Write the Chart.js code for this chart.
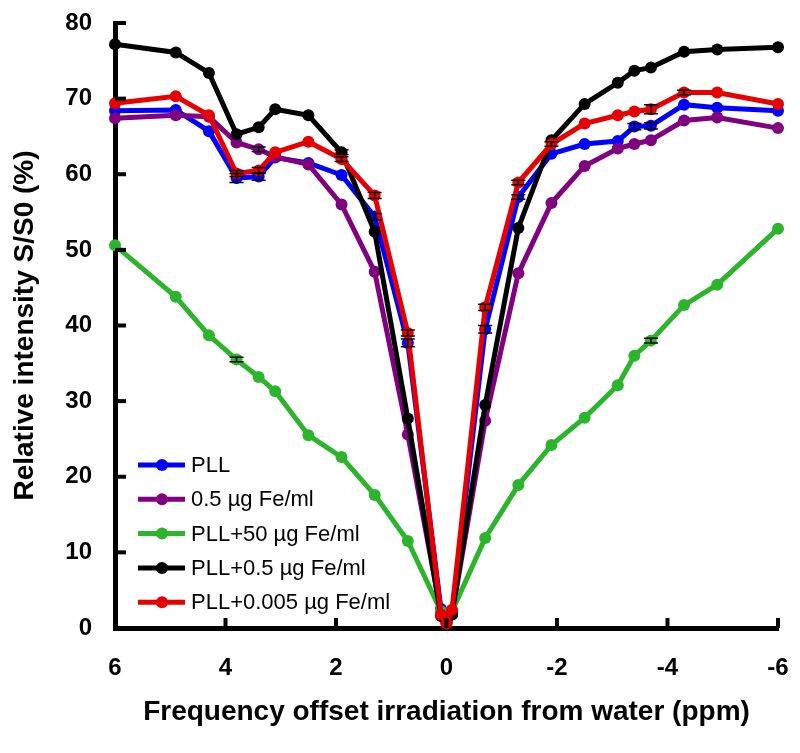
<!DOCTYPE html>
<html>
<head>
<meta charset="utf-8">
<script src="https://cdn.jsdelivr.net/npm/chart.js@4.4.1/dist/chart.umd.min.js"></script>
<style>
  html, body { margin: 0; padding: 0; background: #fff; }
  canvas { display: block; }
</style>
</head>
<body>
<canvas id="cest" width="800" height="753"></canvas>
<script>
// Frequency offsets (ppm), shared by every series
const offsets = [6, 4.9, 4.3, 3.8, 3.4, 3.1, 2.5, 1.9, 1.3, 0.7, 0.1, 0, -0.1,
    -0.7, -1.3, -1.9, -2.5, -3.1, -3.4, -3.7, -4.3, -4.9, -6];

const seriesNames = ['PLL', '0.5 µg Fe/ml', 'PLL+50 µg Fe/ml', 'PLL+0.5 µg Fe/ml', 'PLL+0.005 µg Fe/ml'];
const seriesColors = ['#0000ff', '#800080', '#2db42d', '#000000', '#e60000'];

const pll = [68.4, 68.5, 65.7, 59.5, 59.7, 62.2, 61.5, 59.9, 54.4, 37.7, 2.5, 0.6, 2.0,
    39.5, 57.0, 62.7, 64.0, 64.4, 66.3, 66.4, 69.2, 68.8, 68.4];
const fe05 = [67.4, 67.8, 67.6, 64.2, 63.3, 62.3, 61.3, 56.0, 47.1, 25.6, 2.0, 0.8, 1.8,
    27.4, 46.9, 56.2, 61.1, 63.4, 64.0, 64.5, 67.1, 67.5, 66.1];
const pllFe50 = [50.6, 43.8, 38.7, 35.5, 33.2, 31.3, 25.5, 22.6, 17.6, 11.5, 2.2, 1.0, 2.2,
    11.9, 18.9, 24.2, 27.8, 32.1, 36.0, 38.0, 42.7, 45.4, 52.8];
const pllFe05 = [77.2, 76.1, 73.4, 65.3, 66.2, 68.6, 67.8, 62.9, 52.4, 27.7, 1.6, 0.9, 1.8,
    29.5, 52.9, 64.5, 69.3, 72.1, 73.7, 74.1, 76.2, 76.5, 76.8];
const pllFe0005 = [69.4, 70.3, 67.8, 60.1, 60.5, 62.9, 64.3, 62.0, 57.2, 39.0, 1.8, 0.6, 2.4,
    42.4, 58.9, 64.0, 66.7, 67.8, 68.3, 68.6, 70.8, 70.8, 69.3];

// Standard errors (small, mostly hidden by the markers)
const pllErr = [0, 0, 0, 0.6, 0.5, 0, 0, 0, 0.4, 0.5, 0, 0, 0,
    0.5, 0.3, 0, 0, 0, 0.4, 0.4, 0, 0, 0];
const fe05Err = [0, 0, 0, 0, 0.3, 0, 0, 0, 0, 0, 0, 0, 0,
    0, 0, 0, 0, 0, 0, 0, 0, 0, 0];
const pllFe50Err = [0, 0, 0, 0.3, 0, 0, 0, 0, 0, 0, 0, 0, 0,
    0, 0, 0, 0, 0, 0, 0.3, 0, 0, 0];
const pllFe05Err = [0, 0, 0, 0, 0, 0, 0, 0.3, 0, 0, 0, 0, 0,
    0, 0, 0, 0, 0, 0, 0, 0, 0, 0];
const pllFe0005Err = [0, 0, 0, 0.4, 0.4, 0, 0, 0.3, 0.4, 0.4, 0, 0, 0,
    0.4, 0.3, 0.3, 0, 0, 0, 0.6, 0.3, 0, 0];

const seriesValues = [pll, fe05, pllFe50, pllFe05, pllFe0005];
const seriesErrors = [pllErr, fe05Err, pllFe50Err, pllFe05Err, pllFe0005Err];

const xTicks = [6, 4, 2, 0, -2, -4, -6];
const yTicks = [0, 10, 20, 30, 40, 50, 60, 70, 80];

const FONT = '"Liberation Sans", Arial, sans-serif';

const datasets = seriesNames.map((name, i) => ({
    label: name,
    data: offsets.map((x, j) => ({ x: x, y: seriesValues[i][j] })),
    borderColor: seriesColors[i],
    backgroundColor: seriesColors[i],
    pointBackgroundColor: seriesColors[i],
    pointBorderColor: seriesColors[i],
    borderWidth: 5,
    pointRadius: 6,
    pointBorderWidth: 0,
    tension: 0,
    clip: false,
    order: seriesNames.length - 1 - i   // later series drawn on top
}));

// Error bars with caps, from the error arrays
const errorBars = {
    id: 'errorBars',
    afterDatasetsDraw(chart) {
        const { ctx, scales } = chart;
        ctx.save();
        ctx.strokeStyle = '#000';
        ctx.lineWidth = 1.5;
        seriesErrors.forEach((errs, i) => {
            errs.forEach((e, j) => {
                if (!e) return;
                const px = scales.x.getPixelForValue(offsets[j]);
                const hi = scales.y.getPixelForValue(seriesValues[i][j] + e);
                const lo = scales.y.getPixelForValue(seriesValues[i][j] - e);
                ctx.beginPath();
                ctx.moveTo(px, hi); ctx.lineTo(px, lo);
                ctx.moveTo(px - 7, hi); ctx.lineTo(px + 7, hi);
                ctx.moveTo(px - 7, lo); ctx.lineTo(px + 7, lo);
                ctx.stroke();
            });
        });
        ctx.restore();
    }
};

// Inward tick marks on both axes
const inwardTicks = {
    id: 'inwardTicks',
    afterDatasetsDraw(chart) {
        const { ctx, chartArea, scales } = chart;
        ctx.save();
        ctx.strokeStyle = '#000';
        ctx.lineWidth = 4;
        scales.x.ticks.forEach(t => {
            const px = scales.x.getPixelForValue(t.value);
            ctx.beginPath();
            ctx.moveTo(px, chartArea.bottom);
            ctx.lineTo(px, chartArea.bottom - 10);
            ctx.stroke();
        });
        scales.y.ticks.forEach(t => {
            const py = scales.y.getPixelForValue(t.value);
            ctx.beginPath();
            ctx.moveTo(chartArea.left, py);
            ctx.lineTo(chartArea.left + 11, py);
            ctx.stroke();
        });
        ctx.restore();
    }
};

// Legend drawn inside the plot, lower left
const insideLegend = {
    id: 'insideLegend',
    afterDraw(chart) {
        const { ctx, chartArea } = chart;
        const x0 = chartArea.left + 23;
        const y0 = 465;
        const step = 34.3;
        ctx.save();
        ctx.font = '22px ' + FONT;
        ctx.textBaseline = 'middle';
        ctx.textAlign = 'left';
        seriesNames.forEach((name, i) => {
            const y = y0 + i * step;
            ctx.strokeStyle = seriesColors[i];
            ctx.fillStyle = seriesColors[i];
            ctx.lineWidth = 5;
            ctx.beginPath();
            ctx.moveTo(x0, y);
            ctx.lineTo(x0 + 47, y);
            ctx.stroke();
            ctx.beginPath();
            ctx.arc(x0 + 24, y, 6, 0, Math.PI * 2);
            ctx.fill();
            ctx.fillStyle = '#000';
            ctx.fillText(name, x0 + 53, y + 1);
        });
        ctx.restore();
    }
};

new Chart(document.getElementById('cest'), {
    type: 'line',
    data: { datasets },
    plugins: [errorBars, inwardTicks, insideLegend],
    options: {
        responsive: false,
        devicePixelRatio: 1,
        animation: false,
        layout: { padding: { top: 23, right: 22, left: 0, bottom: 0 } },
        plugins: {
            legend: { display: false },
            tooltip: { enabled: false }
        },
        scales: {
            x: {
                type: 'linear',
                reverse: true,
                min: -6,
                max: 6,
                afterFit: s => { s.height = 125; s.paddingLeft = 0; s.paddingRight = 0; },
                afterBuildTicks: s => { s.ticks = xTicks.map(v => ({ value: v })); },
                grid: { display: false, drawTicks: false },
                border: { display: true, color: '#000', width: 5 },
                ticks: {
                    color: '#000',
                    padding: 26,
                    font: { family: FONT, size: 24, weight: 'bold' }
                },
                title: {
                    display: true,
                    text: 'Frequency offset irradiation from water (ppm)',
                    color: '#000',
                    padding: { top: 0, bottom: 24 },
                    font: { family: FONT, size: 28, weight: 'bold' }
                }
            },
            y: {
                min: 0,
                max: 80,
                afterFit: s => { s.width = 115; s.paddingTop = 0; s.paddingBottom = 0; },
                afterBuildTicks: s => { s.ticks = yTicks.map(v => ({ value: v })); },
                grid: { display: false, drawTicks: false },
                border: { display: true, color: '#000', width: 5 },
                ticks: {
                    color: '#000',
                    padding: 23,
                    font: { family: FONT, size: 24, weight: 'bold' }
                },
                title: {
                    display: true,
                    text: 'Relative intensity S/S0 (%)',
                    color: '#000',
                    padding: { top: 8, bottom: 0 },
                    font: { family: FONT, size: 28, weight: 'bold' }
                }
            }
        }
    }
});
</script>
</body>
</html>
